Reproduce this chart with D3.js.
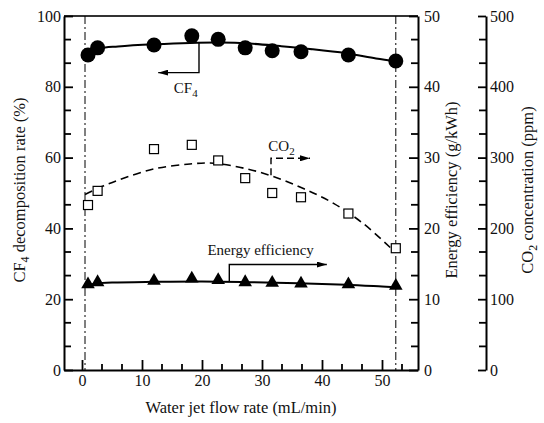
<!DOCTYPE html>
<html>
<head>
<meta charset="utf-8">
<script src="https://cdn.jsdelivr.net/npm/d3@7"></script>
<style>
    body { margin: 0; background: #fff; }
    svg { font-family: "Liberation Serif", "DejaVu Serif", serif; }
    .axis path { stroke: #000; stroke-width: 2; }
    .axis line { stroke: #000; stroke-width: 1.8; }
    .axis text { font-size: 16px; fill: #111; font-family: "Liberation Serif", serif; }
</style>
</head>
<body>
<script>
// measured points
var flowRate = [1, 2.6, 12, 18.3, 22.7, 27.2, 31.7, 36.5, 44.4, 52.3];
var cf4Rate = [89.0, 91.0, 91.8, 94.4, 93.4, 91.0, 90.2, 89.9, 89.0, 87.3];
var co2Ppm = [233, 253, 312, 318, 296, 271, 250, 244, 221, 172];
var energyEff = [12.1, 12.4, 12.6, 12.9, 12.7, 12.4, 12.3, 12.2, 12.1, 11.9];

// fitted curves
var cf4FitX = [0.5, 1.5, 3, 6, 12, 18, 23, 28, 33, 38, 44, 49, 52.3];
var cf4FitY = [87.6, 90.0, 90.9, 91.4, 92.0, 92.4, 92.5, 92.2, 91.5, 90.7, 89.5, 88.0, 87.2];
var co2FitX = [0.5, 3, 6, 12, 18, 22, 27, 32, 37, 42, 47, 51.5];
var co2FitY = [248, 258, 268, 284, 291, 292, 285, 273, 256, 235, 206, 172];
var energyFitX = [0.5, 2, 5, 12, 20, 28, 36, 44, 50, 52.3];
var energyFitY = [11.75, 12.2, 12.35, 12.45, 12.5, 12.4, 12.25, 12.05, 11.8, 11.7];

// operating limits (dash-dot lines)
var limitFlow = [0.5, 52.3];

// tick labels
var xTicks = [0, 10, 20, 30, 40, 50];
var leftTicks = [0, 20, 40, 60, 80, 100];
var energyTicks = [0, 10, 20, 30, 40, 50];
var co2Ticks = [0, 100, 200, 300, 400, 500];

var W = 544, H = 423;
var margin = {top: 16, left: 64};
var plotW = 354, plotH = 354;
var co2AxisX = 486;

var svg = d3.select("body").append("svg")
    .attr("width", W)
    .attr("height", H);

var g = svg.append("g")
    .attr("transform", "translate(" + margin.left + "," + margin.top + ")");

var x = d3.scaleLinear().domain([-3, 56]).range([0, plotW]);
var yLeft = d3.scaleLinear().domain([0, 100]).range([plotH, 0]);
var yEnergy = d3.scaleLinear().domain([0, 50]).range([plotH, 0]);
var yCo2 = d3.scaleLinear().domain([0, 500]).range([plotH, 0]);

// minor ticks split each major step into three
function minors(majors, limit) {
    var step = (majors[1] - majors[0]) / 3, out = [];
    majors.forEach(function (m) { out.push(m + step, m + 2 * step); });
    return out.filter(function (v) { return v < limit; });
}

var defs = svg.append("defs");
defs.append("marker")
    .attr("id", "arrow")
    .attr("viewBox", "0 0 10 6")
    .attr("refX", 10).attr("refY", 3)
    .attr("markerWidth", 10).attr("markerHeight", 6)
    .attr("markerUnits", "userSpaceOnUse")
    .attr("orient", "auto")
    .append("path")
    .attr("d", "M0,0L10,3L0,6Z")
    .attr("fill", "#000");

// top frame line
g.append("line")
    .attr("x1", 0).attr("x2", plotW)
    .attr("y1", 0).attr("y2", 0)
    .attr("stroke", "#333").attr("stroke-width", 2);

// short tick lines, vertical (for x) or horizontal (for y)
function minorTicks(vals, scale, horizontal, at, len) {
    g.append("g").selectAll("line")
        .data(vals)
        .enter().append("line")
        .attr("x1", function (d) { return horizontal ? at : scale(d); })
        .attr("x2", function (d) { return horizontal ? at + len : scale(d); })
        .attr("y1", function (d) { return horizontal ? scale(d) : at; })
        .attr("y2", function (d) { return horizontal ? scale(d) : at + len; })
        .attr("stroke", "#000")
        .attr("stroke-width", 1.8);
}

// x axis
g.append("g").attr("class", "axis")
    .attr("transform", "translate(0," + plotH + ")")
    .call(d3.axisBottom(x).tickValues(xTicks).tickSizeInner(-10)
        .tickSizeOuter(0).tickPadding(5).tickFormat(d3.format("d")));
minorTicks(minors(xTicks, 56), x, false, plotH, -6);

// left axis
g.append("g").attr("class", "axis")
    .call(d3.axisLeft(yLeft).tickValues(leftTicks).tickSizeInner(-9)
        .tickSizeOuter(0).tickPadding(3));
minorTicks(minors(leftTicks, 100), yLeft, true, 0, 7);

// energy axis (right side of the frame)
g.append("g").attr("class", "axis")
    .attr("transform", "translate(" + plotW + ",0)")
    .call(d3.axisRight(yEnergy).tickValues(energyTicks).tickSizeInner(-9)
        .tickSizeOuter(0).tickPadding(6));
minorTicks(minors(energyTicks, 50), yEnergy, true, plotW, -7);

// co2 axis (detached)
var cx0 = co2AxisX - margin.left;
g.append("g").attr("class", "axis")
    .attr("transform", "translate(" + cx0 + ",0)")
    .call(d3.axisRight(yCo2).tickValues(co2Ticks).tickSizeInner(-8)
        .tickSizeOuter(0).tickPadding(4));
minorTicks(minors(co2Ticks, 500), yCo2, true, cx0, -7);

// dash-dot limit lines
g.selectAll(".limit")
    .data(limitFlow)
    .enter().append("line")
    .attr("class", "limit")
    .attr("x1", function (d) { return x(d); })
    .attr("x2", function (d) { return x(d); })
    .attr("y1", 0).attr("y2", plotH)
    .attr("stroke", "#000").attr("stroke-width", 1)
    .attr("stroke-dasharray", "8,3,2,3");

// fitted curves
function fit(xs, ys, yScale) {
    return d3.line().curve(d3.curveCatmullRom)
        .x(function (d, i) { return x(xs[i]); })
        .y(function (d) { return yScale(d); })(ys);
}
g.append("path").attr("d", fit(cf4FitX, cf4FitY, yLeft))
    .attr("fill", "none").attr("stroke", "#000").attr("stroke-width", 2);
g.append("path").attr("d", fit(co2FitX, co2FitY, yCo2))
    .attr("fill", "none").attr("stroke", "#000").attr("stroke-width", 1.6)
    .attr("stroke-dasharray", "8,5");
g.append("path").attr("d", fit(energyFitX, energyFitY, yEnergy))
    .attr("fill", "none").attr("stroke", "#000").attr("stroke-width", 2);

// annotations
function leader(pts, dashed) {
    var p = g.append("path")
        .attr("d", d3.line()(pts))
        .attr("fill", "none").attr("stroke", "#000")
        .attr("stroke-width", 1.4)
        .attr("marker-end", "url(#arrow)");
    if (dashed) { p.attr("stroke-dasharray", "7,4"); }
}
leader([[x(19.5), yLeft(92.4)], [x(19.5), yLeft(84)], [x(12.7), yLeft(84)]]);
leader([[x(31.5), yCo2(275)], [x(31.5), yCo2(299)], [x(38), yCo2(299)]], true);
leader([[x(24.55), yEnergy(12.5)], [x(24.55), yEnergy(14.9)],
    [x(40.8), yEnergy(14.9)]]);

function chem(tx, ty, base, sub) {
    var t = g.append("text")
        .attr("x", tx).attr("y", ty)
        .attr("font-size", "15px").attr("fill", "#111");
    t.append("tspan").text(base);
    t.append("tspan").attr("dy", 4).attr("font-size", "11px").text(sub);
}
chem(x(15.3), yLeft(78.3), "CF", "4");
chem(x(31.05), yCo2(309), "CO", "2");
g.append("text")
    .attr("x", x(20.9)).attr("y", yEnergy(16.2))
    .attr("font-size", "15px").attr("fill", "#111")
    .text("Energy efficiency");

// markers
g.selectAll(".cf4")
    .data(cf4Rate)
    .enter().append("circle")
    .attr("cx", function (d, i) { return x(flowRate[i]); })
    .attr("cy", function (d) { return yLeft(d); })
    .attr("r", 7.5)
    .attr("fill", "#000");

g.selectAll(".co2")
    .data(co2Ppm)
    .enter().append("rect")
    .attr("x", function (d, i) { return x(flowRate[i]) - 4.5; })
    .attr("y", function (d) { return yCo2(d) - 4.5; })
    .attr("width", 9).attr("height", 9)
    .attr("fill", "#fff").attr("stroke", "#000").attr("stroke-width", 1.2);

g.selectAll(".energy")
    .data(energyEff)
    .enter().append("path")
    .attr("transform", function (d, i) {
        return "translate(" + x(flowRate[i]) + "," + yEnergy(d) + ")";
    })
    .attr("d", d3.symbol().type(d3.symbolTriangle).size(80))
    .attr("fill", "#000");

// axis titles
function vTitle(cx, parts) {
    var t = svg.append("text")
        .attr("transform", "translate(" + cx + ",190) rotate(-90)")
        .attr("text-anchor", "middle")
        .attr("font-size", "16.5px").attr("fill", "#111");
    parts.forEach(function (p) {
        var s = t.append("tspan").text(p[0]);
        if (p[1]) { s.attr("font-size", "12px").attr("dy", 4); }
        else if (p[2]) { s.attr("dy", -4); }
    });
}
vTitle(25, [["CF"], ["4", true], [" decomposition rate (%)", false, true]]);
vTitle(457, [["Energy efficiency (g/kWh)"]]);
vTitle(533, [["CO"], ["2", true], [" concentration (ppm)", false, true]]);

svg.append("text")
    .attr("x", 241).attr("y", 413)
    .attr("text-anchor", "middle")
    .attr("font-size", "16.5px").attr("fill", "#111")
    .text("Water jet flow rate (mL/min)");
</script>
</body>
</html>
